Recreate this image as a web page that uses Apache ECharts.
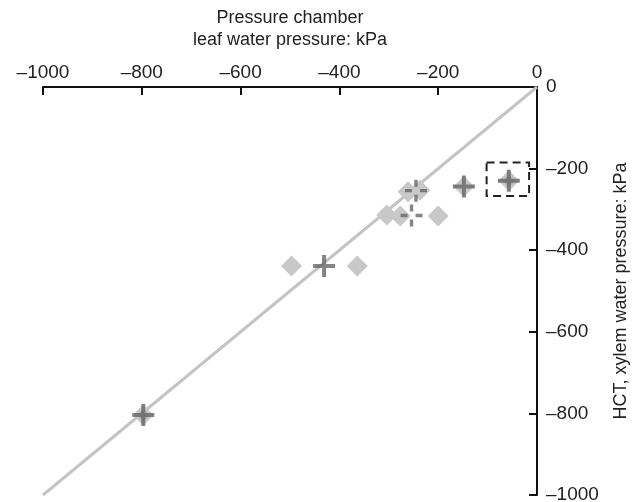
<!DOCTYPE html>
<html><head><meta charset="utf-8">
<script src="https://cdn.jsdelivr.net/npm/echarts@6/dist/echarts.min.js"></script>
<style>html,body{margin:0;padding:0;background:#fff}#c{width:639px;height:502px}</style>
</head><body><div id="c"></div>
<script>
const xTicks = [-1000,-800,-600,-400,-200,0];
const yTicks = [-1000,-800,-600,-400,-200,0];
const diamondPts = [[-57,-230],[-148,-244],[-261,-257],[-237,-253],[-304,-314],[-277,-316],[-200,-316],[-497,-439],[-364,-439],[-797,-804]];
const innerDiamondPts = [[-57,-230],[-797,-804]];
const plusPts = [[-57,-230],[-148,-244],[-431,-439],[-797,-804]];
const dashedPlusPts = [[-245,-254],[-254,-315]];
const identityLine = [[0,0],[-1000,-1000]];
const highlightBox = [[-102,-185],[-16,-267]];

const plusPath = 'path://M-2,-11 L2,-11 L2,-2 L11,-2 L11,2 L2,2 L2,11 L-2,11 L-2,2 L-11,2 L-11,-2 L-2,-2 Z';
const dashedPlusPath = 'path://M-1.7,-11 L1.7,-11 L1.7,-4 L-1.7,-4 Z M-1.7,4 L1.7,4 L1.7,11 L-1.7,11 Z M-11,-1.7 L-4,-1.7 L-4,1.7 L-11,1.7 Z M4,-1.7 L11,-1.7 L11,1.7 L4,1.7 Z';
const fmt = v => v < 0 ? '\u2013' + Math.abs(v) : String(v);
const font = 'Liberation Sans, Arial, sans-serif';

const chart = echarts.init(document.getElementById('c'));
chart.setOption({
  animation: false,
  backgroundColor: '#fff',
  grid: {left: 43, right: 102, top: 87, bottom: 7, containLabel: false, outerBoundsMode: 'none'},
  xAxis: {
    type: 'value', position: 'top', min: xTicks[0], max: xTicks[xTicks.length-1], interval: 200,
    name: 'Pressure chamber\nleaf water pressure: kPa', nameLocation: 'middle', nameGap: 36,
    nameTextStyle: {fontFamily: font, fontSize: 18, color: '#222', lineHeight: 22},
    axisLine: {show: true, onZero: false, lineStyle: {color: '#111', width: 2}},
    axisTick: {show: true, inside: true, length: 8, lineStyle: {color: '#111', width: 2}},
    axisLabel: {formatter: fmt, fontFamily: font, fontSize: 19, color: '#222', margin: 5},
    splitLine: {show: false}
  },
  yAxis: {
    type: 'value', position: 'right', min: yTicks[0], max: yTicks[yTicks.length-1], interval: 200,
    name: 'HCT, xylem water pressure: kPa', nameLocation: 'middle', nameGap: 75, nameRotate: 90,
    nameTextStyle: {fontFamily: font, fontSize: 18, color: '#222'},
    axisLine: {show: true, onZero: false, lineStyle: {color: '#111', width: 2}},
    axisTick: {show: true, inside: true, length: 8, lineStyle: {color: '#111', width: 2}},
    axisLabel: {formatter: fmt, fontFamily: font, fontSize: 19, color: '#222', margin: 9},
    splitLine: {show: false}
  },
  series: [
    {type: 'line', data: identityLine, symbol: 'none', lineStyle: {color: '#c4c4c4', width: 3}, z: 1,
     markArea: {silent: true, itemStyle: {color: 'rgba(0,0,0,0)', borderColor: '#222', borderWidth: 2, borderType: [8,5]},
       data: [[{coord: highlightBox[0]}, {coord: highlightBox[1]}]]}},
    {type: 'scatter', data: diamondPts, symbol: 'diamond', symbolSize: 21, itemStyle: {color: '#c8c8c8', opacity: 1}, z: 2},
    {type: 'scatter', data: innerDiamondPts, symbol: 'diamond', symbolSize: 13, itemStyle: {color: '#a5a5a5'}, z: 3},
    {type: 'scatter', data: plusPts, symbol: plusPath, symbolSize: 22, itemStyle: {color: '#666'}, z: 4},
    {type: 'scatter', data: dashedPlusPts, symbol: dashedPlusPath, symbolSize: 22, itemStyle: {color: '#666'}, z: 4}
  ]
});
</script></body></html>
